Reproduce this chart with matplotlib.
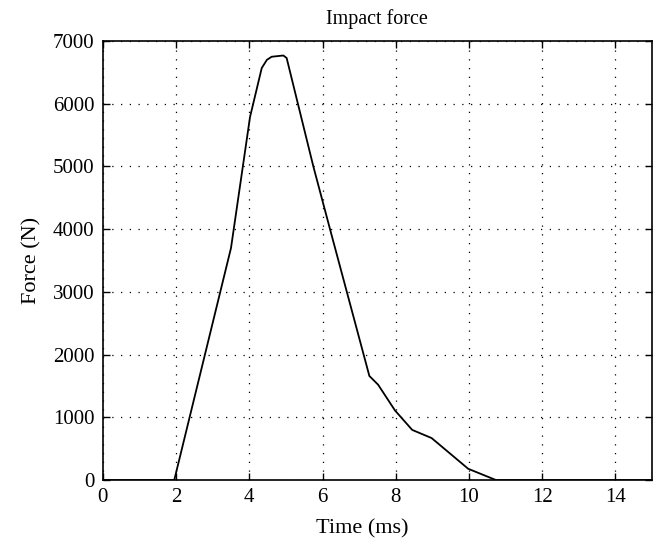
import matplotlib.pyplot as plt

# Impact force curve
time_ms = [0.0, 1.95, 3.5, 4.02, 4.34, 4.48, 4.61, 4.93, 5.02, 5.75, 6.21,
           7.28, 7.52, 7.98, 8.45, 8.98, 9.98, 10.74, 15.0]
force_n = [0, 0, 3700, 5790, 6570, 6700, 6750, 6770, 6730, 5000, 3990,
           1660, 1520, 1110, 800, 670, 180, 0, 0]

x_ticks = [0, 2, 4, 6, 8, 10, 12, 14]
y_ticks = [0, 1000, 2000, 3000, 4000, 5000, 6000, 7000]

plt.rcParams["font.family"] = ["Liberation Serif", "DejaVu Serif"]

fig = plt.figure(figsize=(6.68, 5.55), dpi=100)
ax = fig.add_axes([0.154, 0.135, 0.822, 0.791])

ax.plot(time_ms, force_n, color="black", linewidth=1.3)

ax.set_xlim(0, 15)
ax.set_ylim(0, 7000)
ax.set_xticks(x_ticks)
ax.set_yticks(y_ticks)
ax.tick_params(direction="in", top=True, right=True, length=5, width=1,
               labelsize=15, pad=6)
ax.grid(True, color="black", linestyle=(0, (1, 6)), linewidth=0.9)

for side in ax.spines.values():
    side.set_linewidth(1.2)

ax.set_title("Impact force", fontsize=14.5, pad=12)
ax.set_xlabel("Time (ms)", fontsize=16, labelpad=6)
ax.xaxis.set_label_coords(0.472, -0.09)
ax.set_ylabel("Force (N)", fontsize=16, labelpad=8)

fig.savefig("out.png", dpi=100)
